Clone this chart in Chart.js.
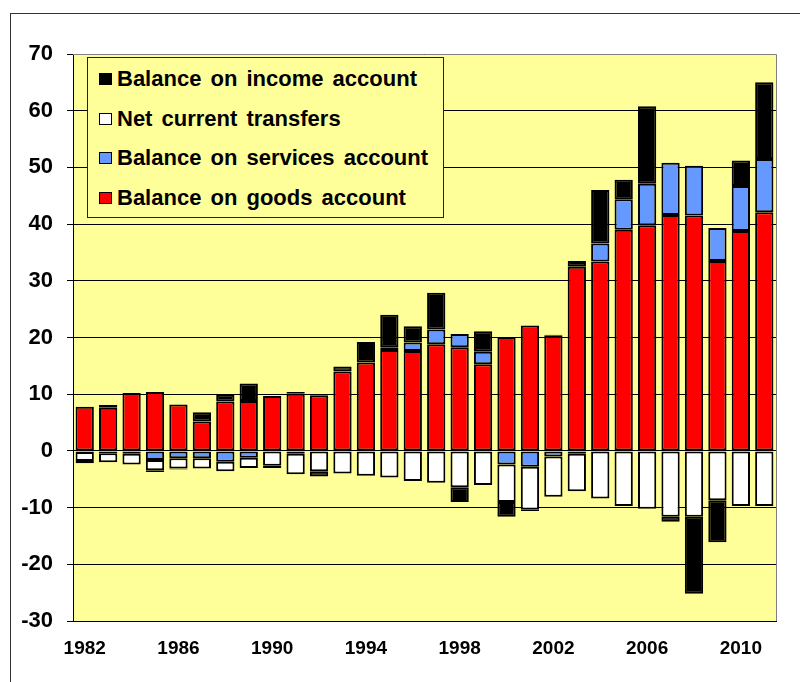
<!DOCTYPE html>
<html>
<head>
<meta charset="utf-8">
<script src="https://cdn.jsdelivr.net/npm/chart.js@4.4.0/dist/chart.umd.min.js"></script>
<style>
  body { margin: 0; background: #fff; }
  #wrap { position: relative; width: 800px; height: 682px; overflow: hidden; }
  #frame { position: absolute; left: 10px; top: 13px; width: 900px; height: 900px;
           border-left: 1px solid #333; border-top: 1px solid #333; }
  #myChart { position: absolute; left: 0; top: 0; }
  #legend { position: absolute; left: 87px; top: 57px; width: 355px; height: 159px;
            background: #ffff99; border: 1px solid #222;
            font: bold 22px "Liberation Sans", Arial, sans-serif; color: #000; word-spacing: 3px; }
  .item { position: absolute; left: 11px; height: 40px; display: flex; align-items: center; white-space: nowrap; }
  .sw { width: 11px; height: 10px; border: 1px solid #000; margin-right: 5px; }
</style>
</head>
<body>
<div id="wrap">
  <div id="frame"></div>
  <canvas id="myChart" width="800" height="682"></canvas>
  <div id="legend"></div>
</div>
<script>
// years on the x axis
const years = ['1982','1983','1984','1985','1986','1987','1988','1989','1990','1991',
               '1992','1993','1994','1995','1996','1997','1998','1999','2000','2001',
               '2002','2003','2004','2005','2006','2007','2008','2009','2010','2011'];

// values
const goods = [7.8, 7.6, 10.2, 10.4, 8.2, 5.2, 8.7, 8.8, 9.7, 10.1,
               9.8, 14.0, 15.6, 17.8, 17.6, 18.8, 18.3, 15.3, 20.1, 22.1,
               20.3, 32.5, 33.4, 39.0, 39.8, 41.6, 41.5, 33.5, 38.8, 42.1];
const services = [-0.2, -0.4, -0.5, -1.6, -1.3, -1.3, -1.9, -1.2, 0, -0.5,
                  0, 0, 0, 0.5, 1.5, 2.6, 2.3, 2.2, -2.4, -2.8,
                  -1.0, -0.5, 3.2, 5.4, 7.3, 9.2, 8.8, 5.8, 7.9, 9.4];
const transfers = [-1.6, -1.6, -1.9, -1.8, -1.8, -1.8, -1.7, -1.8, -2.6, -3.6,
                   -3.6, -4.0, -4.4, -4.7, -5.3, -5.6, -6.4, -6.0, -6.6, -7.6,
                   -7.1, -6.6, -8.4, -9.7, -10.2, -11.6, -11.6, -8.7, -9.7, -9.7];
const income = [-0.4, 0.5, 0, -0.3, -0.2, 1.6, 1.2, 3.1, -0.4, 0.3,
                -0.9, 0.9, 3.6, 5.7, 2.9, 6.5, -2.6, 3.6, -2.6, -0.2,
                0.2, 1.0, 9.4, 3.4, 13.7, -0.9, -13.6, -7.4, 4.5, 13.5];

const font = '"Liberation Sans", Arial, sans-serif';

// yellow plot area + grey frame round it
const plotArea = {
    id: 'plotArea',
    beforeDraw(chart) {
        const ctx = chart.ctx, a = chart.chartArea;
        ctx.save();
        ctx.fillStyle = '#ffff99';
        ctx.fillRect(a.left, a.top, a.right - a.left, a.bottom - a.top);
        ctx.restore();
    },
    afterDraw(chart) {
        const ctx = chart.ctx, a = chart.chartArea;
        ctx.save();
        ctx.strokeStyle = '#808080';
        ctx.lineWidth = 1;
        ctx.beginPath();
        ctx.moveTo(a.left, a.top + 0.5);
        ctx.lineTo(a.right + 0.5, a.top + 0.5);
        ctx.lineTo(a.right + 0.5, a.bottom);
        ctx.stroke();
        ctx.restore();
    }
};

function bars(label, data, color) {
    return {
        label: label,
        data: data,
        backgroundColor: color,
        borderColor: '#000',
        borderWidth: 2,
        borderSkipped: false,
        barPercentage: 0.78,
        categoryPercentage: 1
    };
}

const data = {
    labels: years,
    datasets: [
        bars('Balance on goods account', goods, '#ff0000'),
        bars('Balance on services account', services, '#6699ff'),
        bars('Net current transfers', transfers, '#ffffff'),
        bars('Balance on income account', income, '#000000')
    ]
};

const config = {
    type: 'bar',
    data,
    options: {
        responsive: false,
        animation: false,
        layout: { padding: { left: 0, top: 54, right: 24, bottom: 0 } },
        plugins: { legend: { display: false }, tooltip: { enabled: false } },
        scales: {
            x: {
                stacked: true,
                grid: { display: false },
                border: { display: true, color: '#000', width: 1 },
                ticks: {
                    autoSkip: false,
                    maxRotation: 0,
                    padding: 8,
                    color: '#000',
                    font: { family: font, size: 19, weight: 'bold' },
                    callback: (v, i) => (i % 4 === 0 ? years[i] : '')
                },
                afterFit: (s) => { s.height = 61; }
            },
            y: {
                stacked: true,
                min: -30,
                max: 70,
                grid: { color: '#000', lineWidth: 1, tickLength: 6 },
                border: { display: true, color: '#000', width: 1 },
                ticks: {
                    stepSize: 10,
                    padding: 14,
                    color: '#000',
                    font: { family: font, size: 22, weight: 'bold' }
                },
                afterFit: (s) => { s.width = 73; }
            }
        }
    },
    plugins: [plotArea]
};

var myChart = new Chart(document.getElementById('myChart'), config);

// legend box inside the plot, top entry first
const leg = document.getElementById('legend');
myChart.data.datasets.slice().reverse().forEach((ds, i) => {
    const row = document.createElement('div');
    row.className = 'item';
    row.style.top = (1 + i * 39.7) + 'px';
    const sw = document.createElement('span');
    sw.className = 'sw';
    sw.style.background = ds.backgroundColor;
    row.appendChild(sw);
    row.appendChild(document.createTextNode(ds.label));
    leg.appendChild(row);
});
</script>
</body>
</html>
